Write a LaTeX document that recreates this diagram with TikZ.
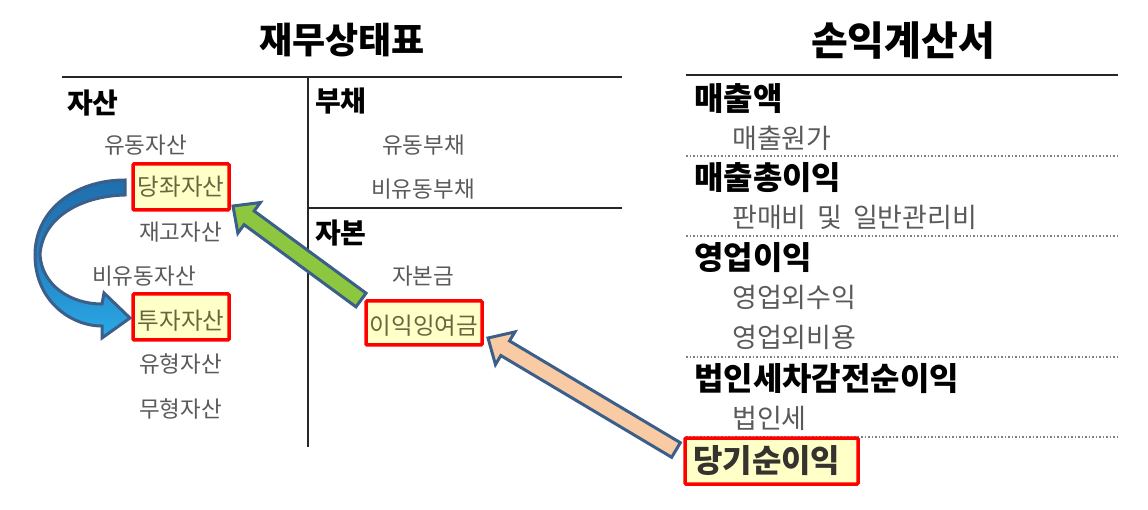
\documentclass[tikz,border=0pt]{standalone}
\usepackage{fontspec}
\newfontfamily\kr{Noto Sans CJK KR}
\usetikzlibrary{calc}
\definecolor{subgray}{HTML}{5A5A5A}
\definecolor{boxtext}{HTML}{66663F}
\definecolor{boxfill}{HTML}{FFFFC8}
\definecolor{outl}{HTML}{3B5F8A}
\definecolor{greenf}{HTML}{8DC63F}
\definecolor{peachf}{HTML}{F9CBA5}
\definecolor{bluedark}{HTML}{1F6FAE}
\definecolor{bluelight}{HTML}{2BAAE8}
\newcommand\blockarr[3]{%
  \coordinate (bh) at ($(#2)!20pt!(#1)$);
  \draw[arrowline, fill=#3] ($(#1)!8.5pt!90:(#2)$) -- ($(bh)!8.5pt!90:(#2)$) -- ($(bh)!19pt!90:(#2)$) -- (#2) -- ($(bh)!19pt!-90:(#2)$) -- ($(bh)!8.5pt!-90:(#2)$) -- ($(#1)!8.5pt!-90:(#2)$) -- cycle;}
\tikzset{
  title/.style={inner sep=0, font=\kr\bfseries\fontsize{36}{40}\selectfont},
  bshead/.style={anchor=west, inner sep=0, font=\kr\bfseries\fontsize{28}{32}\selectfont},
  bsitem/.style={anchor=west, inner sep=0, text=subgray, font=\kr\fontsize{22.5}{26}\selectfont},
  ishead/.style={anchor=west, inner sep=0, font=\kr\bfseries\fontsize{32}{36}\selectfont},
  isitem/.style={anchor=west, inner sep=0, text=subgray, font=\kr\fontsize{27}{30}\selectfont},
  hlbox/.style={draw=red, line width=3.5pt, fill=boxfill, rounded corners=1pt},
  hltext/.style={inner sep=0, text=boxtext, font=\kr\fontsize{23.5}{26}\selectfont},
  rule/.style={line width=2pt, black!85},
  vrule/.style={line width=1.6pt, black!85},
  dotrule/.style={line width=1.5pt, gray, dotted},
  arrowline/.style={draw=outl, line width=3pt, line join=miter},
}
\begin{document}
\begin{tikzpicture}[x=1pt,y=-1pt]
\useasboundingbox (0,0) rectangle (1148,510);
% titles
\node[title] (t1) at (342,40) {재무상태표};
\node[title, font=\kr\bfseries\fontsize{40}{44}\selectfont] (t2) at (903,41) {손익계산서};
% balance sheet rules
\draw[rule] (62,77) -- (622,77);
\draw[vrule] (308,77) -- (308,447);
\draw[vrule] (308,208) -- (622,208);
% income statement rules
\draw[rule] (686,75) -- (1118,75);
\draw[dotrule] (686,156) -- (1118,156);
\draw[dotrule] (686,236) -- (1118,236);
\draw[dotrule] (686,357) -- (1118,357);
\draw[dotrule] (686,437) -- (1118,437);
% highlighted boxes
\draw[hlbox] (133,164) rectangle (229,210);
\node[hltext] (ddz) at (181,187) {당좌자산};
\draw[hlbox] (133,294) rectangle (229,340);
\node[hltext] (tjz) at (181,321) {투자자산};
\draw[hlbox] (366,301) rectangle (482,345);
\node[hltext] (iie) at (424,326) {이익잉여금};
\draw[hlbox] (685,438) rectangle (858,484);
\node[ishead, text=black!85!yellow!60!black] (dgs) at (693,461) {당기순이익};
% balance sheet texts
\node[bshead] (as) at (67,103) {자산};
\node[bsitem] (ydz) at (104,145) {유동자산};
\node[bsitem] (jgz) at (139,232) {재고자산};
\node[bsitem] (bydz) at (92,276) {비유동자산};
\node[bsitem] (yhz) at (139,364) {유형자산};
\node[bsitem] (mhz) at (139,409) {무형자산};
\node[bshead] (bc) at (315,101) {부채};
\node[bsitem] (ydb) at (382,145) {유동부채};
\node[bsitem] (bydb) at (371,189) {비유동부채};
\node[bshead] (jb) at (315,233) {자본};
\node[bsitem] (jbg) at (392,276) {자본금};
% income statement texts
\node[ishead] (mca) at (694,99) {매출액};
\node[isitem] (mcw) at (732,138) {매출원가};
\node[ishead] (mcc) at (694,178) {매출총이익};
\node[isitem] (pmb) at (732,217) {판매비\hspace{0.4em}및\hspace{0.4em}일반관리비};
\node[ishead] (yei) at (694,258) {영업이익};
\node[isitem] (yws) at (732,297) {영업외수익};
\node[isitem] (ywb) at (732,337) {영업외비용};
\node[ishead] (bis) at (694,379) {법인세차감전순이익};
\node[isitem] (bin) at (732,418) {법인세};
% arrows
\coordinate (gs) at (361,300);
\coordinate (ge) at (233,206);
\blockarr{gs}{ge}{greenf}
\coordinate (ps) at (676,450);
\coordinate (pe) at (488,338);
\blockarr{ps}{pe}{peachf}
% curved blue arrow
\draw[arrowline, top color=bluedark, bottom color=bluelight, middle color=bluedark!70!bluelight]
  (125,180) .. controls (75,180) and (35,210) .. (35,255)
  .. controls (35,300) and (70,326) .. (102,326)
  -- (102,338) -- (130,318) -- (104,293) -- (102,304)
  .. controls (70,304) and (42,285) .. (40,255)
  .. controls (42,218) and (80,196) .. (125,195) -- cycle;
\end{tikzpicture}
\end{document}
